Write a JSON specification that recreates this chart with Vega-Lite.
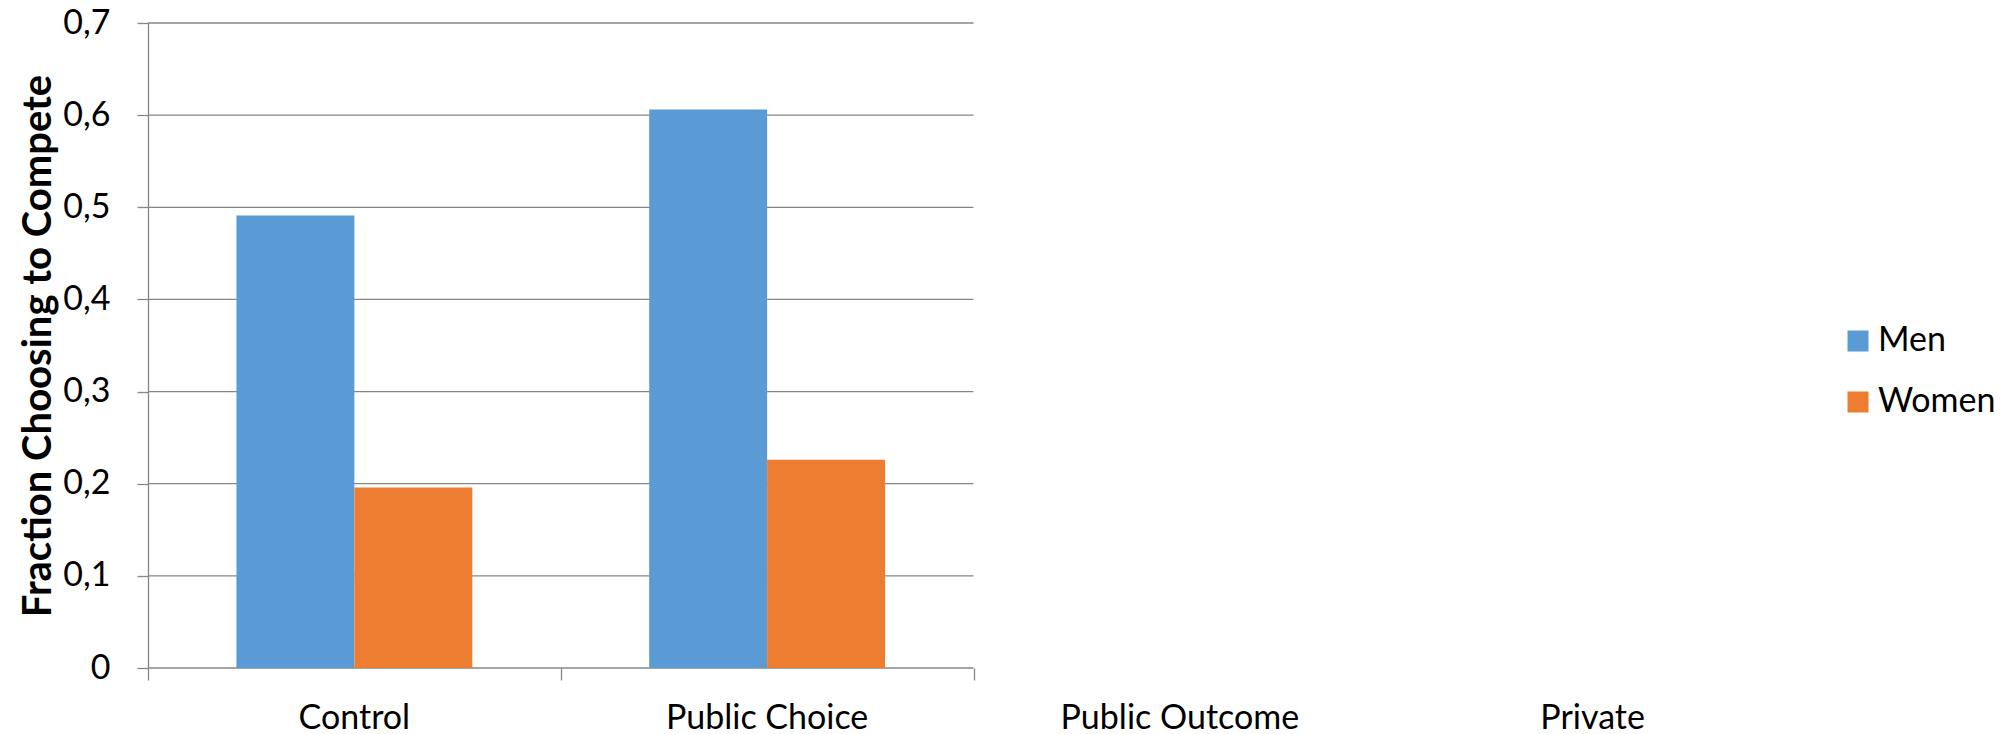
{
  "$schema": "https://vega.github.io/schema/vega-lite/v6.json",
  "autosize": {"type": "none"},
  "padding": {"left": 148, "top": 23, "right": 212, "bottom": 66},
  "width": 1651,
  "height": 645,
  "background": "white",
  "config": {"view": {"stroke": null}, "font": "Lato"},
  "datasets": {
    "shares": [
      {"treatment": "Control", "gender": "Men", "value": 0.491},
      {"treatment": "Control", "gender": "Women", "value": 0.196},
      {"treatment": "Public Choice", "gender": "Men", "value": 0.606},
      {"treatment": "Public Choice", "gender": "Women", "value": 0.226}
    ],
    "gridlines": [
      {"value": 0}, {"value": 0.1}, {"value": 0.2}, {"value": 0.3},
      {"value": 0.4}, {"value": 0.5}, {"value": 0.6}, {"value": 0.7}
    ]
  },
  "layer": [
    {
      "data": {"name": "gridlines"},
      "mark": {"type": "rule", "color": "#868686", "strokeWidth": 1.3},
      "encoding": {
        "x": {
          "datum": 0,
          "type": "quantitative",
          "scale": {"domain": [0, 4], "nice": false, "zero": false},
          "axis": {
            "orient": "bottom",
            "values": [0, 1, 2],
            "labels": false,
            "domain": false,
            "grid": false,
            "ticks": true,
            "tickSize": 12,
            "tickColor": "#868686",
            "tickWidth": 1.3,
            "title": null
          }
        },
        "x2": {"datum": 2},
        "y": {"field": "value", "type": "quantitative", "scale": {"domain": [0, 0.7], "nice": false}}
      }
    },
    {
      "data": {"name": "shares"},
      "mark": {"type": "bar"},
      "encoding": {
        "x": {
          "field": "treatment",
          "type": "nominal",
          "scale": {
            "domain": ["Control", "Public Choice", "Public Outcome", "Private"],
            "paddingInner": 0,
            "paddingOuter": 0
          },
          "axis": {
            "orient": "bottom",
            "title": null,
            "domain": false,
            "ticks": false,
            "grid": false,
            "labelAngle": 0,
            "labelLimit": 0,
            "labelFont": "Lato",
            "labelFontSize": 34,
            "labelColor": "#000000",
            "labelBaseline": "alphabetic",
            "labelPadding": 60
          }
        },
        "xOffset": {
          "field": "gender",
          "scale": {"domain": ["Men", "Women"], "paddingInner": 0, "paddingOuter": 0.75}
        },
        "y": {
          "field": "value",
          "type": "quantitative",
          "scale": {"domain": [0, 0.7], "nice": false},
          "axis": {
            "title": "Fraction Choosing to Compete",
            "titleFont": "Lato",
            "titleFontSize": 40,
            "titleFontWeight": "bold",
            "titleColor": "#000000",
            "titleX": -110,
            "titleY": 322.5,
            "titleAngle": -90,
            "titleAlign": "center",
            "titleBaseline": "middle",
            "titleLimit": 0,
            "values": [0, 0.1, 0.2, 0.3, 0.4, 0.5, 0.6, 0.7],
            "labelExpr": "datum.value == 0 ? '0' : replace(format(datum.value, '.1f'), '.', ',')",
            "labelFont": "Lato",
            "labelFontSize": 34,
            "labelColor": "#000000",
            "labelPadding": 27,
            "tickSize": 11,
            "tickColor": "#868686",
            "tickWidth": 1.3,
            "domainColor": "#868686",
            "domainWidth": 1.3,
            "grid": false
          }
        },
        "color": {
          "field": "gender",
          "type": "nominal",
          "scale": {"domain": ["Men", "Women"], "range": ["#5B9BD5", "#ED7D31"]},
          "legend": {
            "orient": "none",
            "legendX": 1693,
            "legendY": 301,
            "title": null,
            "padding": 0,
            "symbolType": "square",
            "symbolSize": 441,
            "symbolStrokeWidth": 0,
            "labelFont": "Lato",
            "labelFontSize": 34,
            "labelColor": "#000000",
            "labelOffset": 3,
            "rowPadding": 27
          }
        }
      }
    }
  ],
  "resolve": {"scale": {"x": "independent"}}
}
